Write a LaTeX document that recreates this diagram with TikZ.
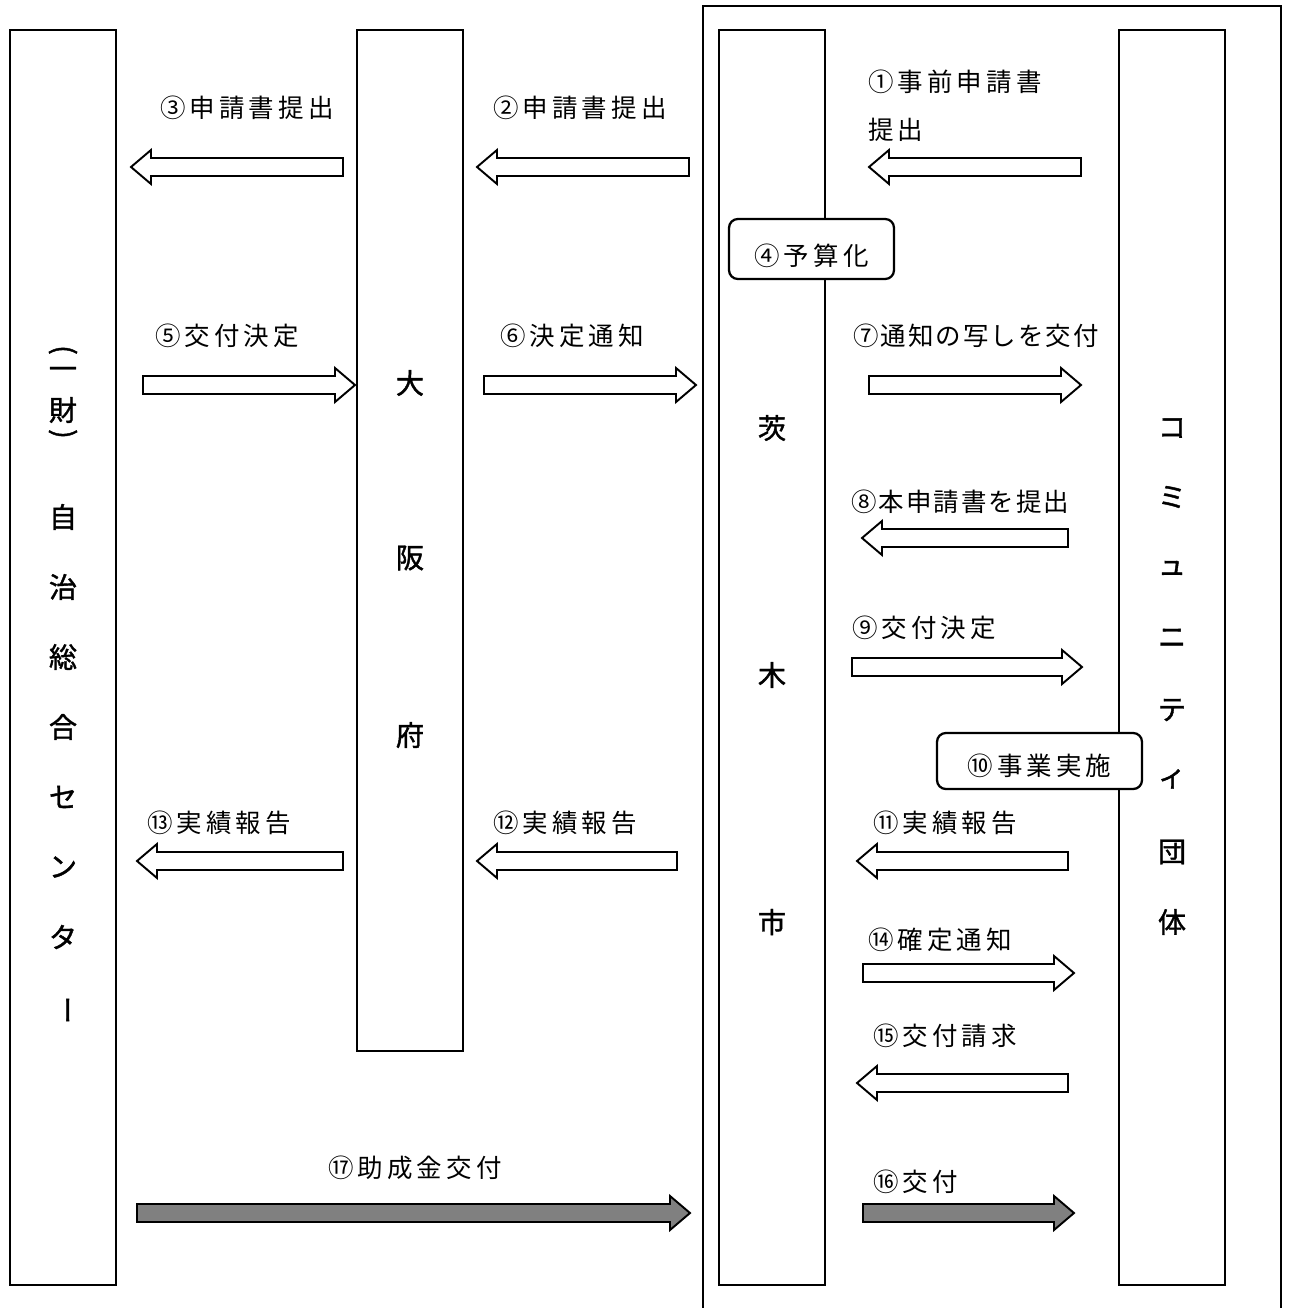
\documentclass[tikz,border=0pt]{standalone}
\usepackage{fontspec}
\newfontfamily\lblfont{Noto Sans CJK JP}[LetterSpace=16]
\newfontfamily\lbltight{Noto Sans CJK JP}[LetterSpace=8]
\newfontfamily\colfont{Noto Sans CJK JP}[FakeBold=1.4]
\usepackage{tikz}
\usetikzlibrary{positioning}
% block arrow: [fill]{tail x}{tip x}{y}
\newcommand{\flowarrow}[4][white]{%
\pgfmathsetmacro{\hb}{ifthenelse(#2<#3,#3-20,#3+20)}%
\draw[arrowline, fill=#1] (#2,#4-9) -- (\hb,#4-9) -- (\hb,#4-17) -- (#3,#4) -- (\hb,#4+17) -- (\hb,#4+9) -- (#2,#4+9) -- cycle;}

\begin{document}
\begin{tikzpicture}[x=0.02cm,y=-0.02cm]
\tikzset{colbox/.style={line width=1.3pt},
coltext/.style={inner sep=0pt, font={\fontsize{16}{18}\selectfont\colfont}},
lbl/.style={anchor=west, inner sep=0pt, font={\fontsize{14.5}{16}\selectfont\lblfont}},
tight/.style={font={\fontsize{14.5}{16}\selectfont\lbltight}},
arrowline/.style={line width=1.1pt, line join=miter},
stepbox/.style={draw, line width=1.3pt, rounded corners=5pt, fill=white, inner sep=0pt}}
\useasboundingbox (0,0) rectangle (1288,1308);
%\draw[step=50,color=gray] (0,0) grid (1288,1308);
% frame round the city and the groups
\draw[line width=1.2pt] (703,1308) -- (703,6) -- (1281,6) -- (1281,1308);
% the four columns
\draw[colbox] (10,30) rectangle (116,1285);
\draw[colbox] (357,30) rectangle (463,1051);
\draw[colbox] (719,30) rectangle (825,1285);
\draw[colbox] (1119,30) rectangle (1225,1285);
% (一財)自治総合センター
\node[coltext, rotate=-90] (zp1) at (63,350) {(};
\node[coltext] (z1) at (63,373) {一};
\node[coltext] (z2) at (63,410) {財};
\node[coltext, rotate=-90] (zp2) at (63,434) {)};
\foreach \ch/\yy in {自/517,治/587,総/657,合/727,セ/797,ン/867,タ/937}
\node[coltext] (z\yy) at (63,\yy) {\ch};
\node[coltext, rotate=-90] (zbar) at (63,1010) {ー};
% 大阪府
\foreach \ch/\yy in {大/383,阪/558,府/735}
\node[coltext] (o\yy) at (410,\yy) {\ch};
% 茨木市
\foreach \ch/\yy in {茨/428,木/675,市/922}
\node[coltext] (i\yy) at (772,\yy) {\ch};
% コミュニティ団体
\foreach \ch/\yy in {コ/428,ミ/497,ュ/568,ニ/638,テ/710,ィ/779,団/852,体/922}
\node[coltext] (c\yy) at (1172,\yy) {\ch};
% requests
\node[lbl] (l3) at (160,108) {③申請書提出}; \flowarrow{343}{131}{167}
\node[lbl] (l2) at (493,108) {②申請書提出}; \flowarrow{689}{477}{167}
\node[lbl] (l1) at (868,82) {①事前申請書}; \node[lbl] (l1b) at (868,130) {提出};
\flowarrow{1081}{869}{167}
\node[stepbox, minimum width=3.3cm, minimum height=1.2cm] (b4) at (811.5,249) {};
\node[lbl, anchor=center, yshift=-4pt] (l4) at (b4.center) {④予算化};
% decisions
\node[lbl] (l5) at (155,336) {⑤交付決定}; \flowarrow{143}{355}{385}
\node[lbl] (l6) at (500,336) {⑥決定通知}; \flowarrow{484}{696}{385}
\node[lbl, tight] (l7) at (853,336) {⑦通知の写しを交付}; \flowarrow{869}{1081}{385}
\node[lbl, tight] (l8) at (851,502) {⑧本申請書を提出}; \flowarrow{1068}{862}{538}
\node[lbl] (l9) at (852,628) {⑨交付決定}; \flowarrow{852}{1082}{667}
\node[stepbox, minimum width=4.1cm, minimum height=1.12cm] (b10) at (1039.5,761) {};
\node[lbl, anchor=center, yshift=-3pt] (l10) at (b10.center) {⑩事業実施};
% reports
\node[lbl] (l11) at (873,823) {⑪実績報告}; \flowarrow{1068}{857}{861}
\node[lbl] (l12) at (493,823) {⑫実績報告}; \flowarrow{677}{477}{861}
\node[lbl] (l13) at (147,823) {⑬実績報告}; \flowarrow{343}{137}{861}
\node[lbl] (l14) at (868,940) {⑭確定通知}; \flowarrow{863}{1074}{973}
\node[lbl] (l15) at (873,1036) {⑮交付請求}; \flowarrow{1068}{857}{1083}
% payments
\node[lbl] (l16) at (873,1182) {⑯交付}; \flowarrow[gray]{863}{1074}{1213}
\node[lbl] (l17) at (328,1168) {⑰助成金交付}; \flowarrow[gray]{137}{690}{1213}
\end{tikzpicture}
\end{document}
